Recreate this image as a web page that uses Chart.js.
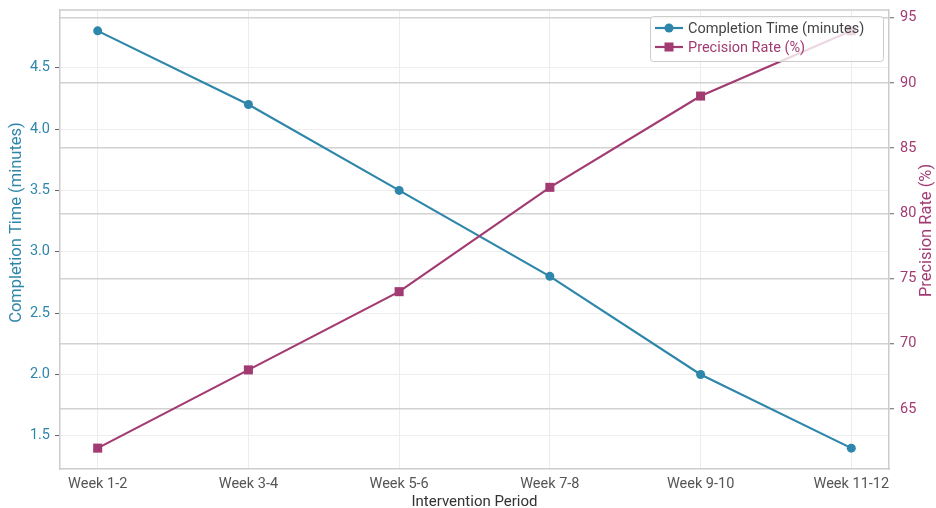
<!DOCTYPE html>
<html>
<head>
<meta charset="utf-8">
<script src="https://cdn.jsdelivr.net/npm/chart.js@4/dist/chart.umd.min.js"></script>
<style>
  html, body { margin: 0; padding: 0; background: #ffffff; }
  #wrap { width: 936px; height: 508px; }
</style>
</head>
<body>
<div id="wrap"><canvas id="c" width="936" height="508"></canvas></div>
<script>
// ---- data ----
const categories = ["Week 1-2", "Week 3-4", "Week 5-6", "Week 7-8", "Week 9-10", "Week 11-12"];
const completionTime = [4.8, 4.2, 3.5, 2.8, 2.0, 1.4];
const precisionRate = [62, 68, 74, 82, 89, 94];
const leftTicks = [1.5, 2.0, 2.5, 3.0, 3.5, 4.0, 4.5];
const rightTicks = [65, 70, 75, 80, 85, 90, 95];
const seriesNames = ["Completion Time (minutes)", "Precision Rate (%)"];
const axisTitles = { x: "Intervention Period", left: "Completion Time (minutes)", right: "Precision Rate (%)" };

const BLUE = "#2E86AB";
const MAGENTA = "#A23B72";
const FONT = "Roboto, 'Noto Sans', sans-serif";
const TICK_SIZE = 14.5;
const TITLE_SIZE = 16.5;

function pad(arr) {
  const lo = Math.min(...arr), hi = Math.max(...arr), m = (hi - lo) * 0.05;
  return [lo - m, hi + m];
}
const [lMin, lMax] = pad(completionTime);
const [rMin, rMax] = pad(precisionRate);
const xPad = (categories.length - 1) * 0.05;

const frameAndLegend = {
  id: "frameAndLegend",
  beforeDatasetsDraw(chart) {
    const { ctx, chartArea: a } = chart;
    ctx.save();
    ctx.strokeStyle = "#cccccc";
    ctx.lineWidth = 1.5;
    ctx.beginPath();
    ctx.moveTo(a.left, a.top);
    ctx.lineTo(a.right, a.top);
    ctx.stroke();
    ctx.restore();
  },
  afterDatasetsDraw(chart) {
    const { ctx, chartArea: a } = chart;
    ctx.save();
    // legend box
    const bw = 233, bh = 45;
    const bx = a.right - 6 - bw, by = a.top + 6;
    ctx.fillStyle = "rgba(255,255,255,0.8)";
    ctx.strokeStyle = "#cccccc";
    ctx.lineWidth = 1;
    ctx.beginPath();
    ctx.roundRect(bx + 0.5, by + 0.5, bw, bh, 3);
    ctx.fill();
    ctx.stroke();
    const ds = chart.data.datasets;
    const textColors = ["#444444", MAGENTA];
    ctx.font = TICK_SIZE + "px " + FONT;
    ctx.textBaseline = "middle";
    ds.forEach((d, i) => {
      const y = by + 12 + i * 19;
      const lx = bx + 5;
      ctx.strokeStyle = d.borderColor;
      ctx.lineWidth = 2.2;
      ctx.beginPath();
      ctx.moveTo(lx, y);
      ctx.lineTo(lx + 28, y);
      ctx.stroke();
      ctx.fillStyle = d.borderColor;
      if (d.pointStyle === "rect") {
        ctx.fillRect(lx + 14 - 4.5, y - 4.5, 9, 9);
      } else {
        ctx.beginPath();
        ctx.arc(lx + 14, y, 4.5, 0, Math.PI * 2);
        ctx.fill();
      }
      ctx.fillStyle = textColors[i];
      ctx.textAlign = "left";
      ctx.fillText(d.label, lx + 33, y + 1);
    });
    ctx.restore();

    // axis titles (read bottom-to-top)
    const mid = (a.top + a.bottom) / 2;
    const drawV = (text, x, y, color) => {
      ctx.save();
      ctx.translate(x, y);
      ctx.rotate(-Math.PI / 2);
      ctx.fillStyle = color;
      ctx.textAlign = "center";
      ctx.textBaseline = "middle";
      ctx.font = TITLE_SIZE + "px " + FONT;
      ctx.fillText(text, 0, 0);
      ctx.restore();
    };
    drawV(axisTitles.left, 17, mid - 17, BLUE);
    drawV(axisTitles.right, chart.width - 9, mid - 9, MAGENTA);
  }
};

function noOverflow(s) { s.paddingTop = 0; s.paddingBottom = 0; s.paddingLeft = 0; s.paddingRight = 0; }

new Chart(document.getElementById("c"), {
  type: "line",
  data: {
    datasets: [
      {
        label: seriesNames[0],
        data: completionTime.map((v, i) => ({ x: i, y: v })),
        borderColor: BLUE,
        backgroundColor: BLUE,
        borderWidth: 2.2,
        pointStyle: "circle",
        pointRadius: 4.5,
        pointBorderWidth: 0,
        tension: 0,
        yAxisID: "y",
        order: 1
      },
      {
        label: seriesNames[1],
        data: precisionRate.map((v, i) => ({ x: i, y: v })),
        borderColor: MAGENTA,
        backgroundColor: MAGENTA,
        borderWidth: 2.2,
        pointStyle: "rect",
        pointRadius: 6.4,
        pointBorderWidth: 0,
        tension: 0,
        yAxisID: "y1",
        order: 0
      }
    ]
  },
  options: {
    responsive: false,
    animation: false,
    devicePixelRatio: 1,
    layout: { padding: { top: 10, left: 0, right: 0, bottom: 0 } },
    plugins: { legend: { display: false }, tooltip: { enabled: false } },
    scales: {
      x: {
        type: "linear",
        min: -xPad,
        max: categories.length - 1 + xPad,
        afterBuildTicks(s) { s.ticks = categories.map((c, i) => ({ value: i })); },
        afterFit(s) { s.height = 39; noOverflow(s); },
        ticks: {
          callback: (v) => categories[v],
          color: "#555555",
          font: { family: FONT, size: TICK_SIZE },
          padding: 7,
          maxRotation: 0,
          autoSkip: false
        },
        grid: { color: "#ececec", lineWidth: 1, drawTicks: false },
        border: { display: true, color: "#cccccc", width: 1.5 },
        title: {
          display: true,
          text: axisTitles.x,
          color: "#333333",
          font: { family: FONT, size: 15, lineHeight: 1 },
          padding: { top: 0, bottom: -2 }
        }
      },
      y: {
        type: "linear",
        position: "left",
        min: lMin,
        max: lMax,
        afterBuildTicks(s) { s.ticks = leftTicks.map(v => ({ value: v })); },
        afterFit(s) { s.width = 60; noOverflow(s); },
        ticks: {
          callback: (v) => Number(v).toFixed(1),
          color: BLUE,
          font: { family: FONT, size: TICK_SIZE },
          padding: 5
        },
        grid: { color: "#ededed", lineWidth: 1, tickLength: 5, tickColor: "#666666", tickWidth: 1 },
        border: { display: true, color: "#cccccc", width: 1.5 },
        title: { display: false }
      },
      y1: {
        type: "linear",
        position: "right",
        min: rMin,
        max: rMax,
        afterBuildTicks(s) { s.ticks = rightTicks.map(v => ({ value: v })); },
        afterFit(s) { s.width = 47; noOverflow(s); },
        ticks: {
          callback: (v) => String(v),
          color: MAGENTA,
          font: { family: FONT, size: TICK_SIZE },
          padding: 6
        },
        grid: { color: "#d2d2d2", lineWidth: 1.5, tickLength: 5, tickColor: "#666666", tickWidth: 1, drawOnChartArea: true },
        border: { display: true, color: "#cccccc", width: 1.5 },
        title: { display: false }
      }
    }
  },
  plugins: [frameAndLegend]
});
</script>
</body>
</html>
